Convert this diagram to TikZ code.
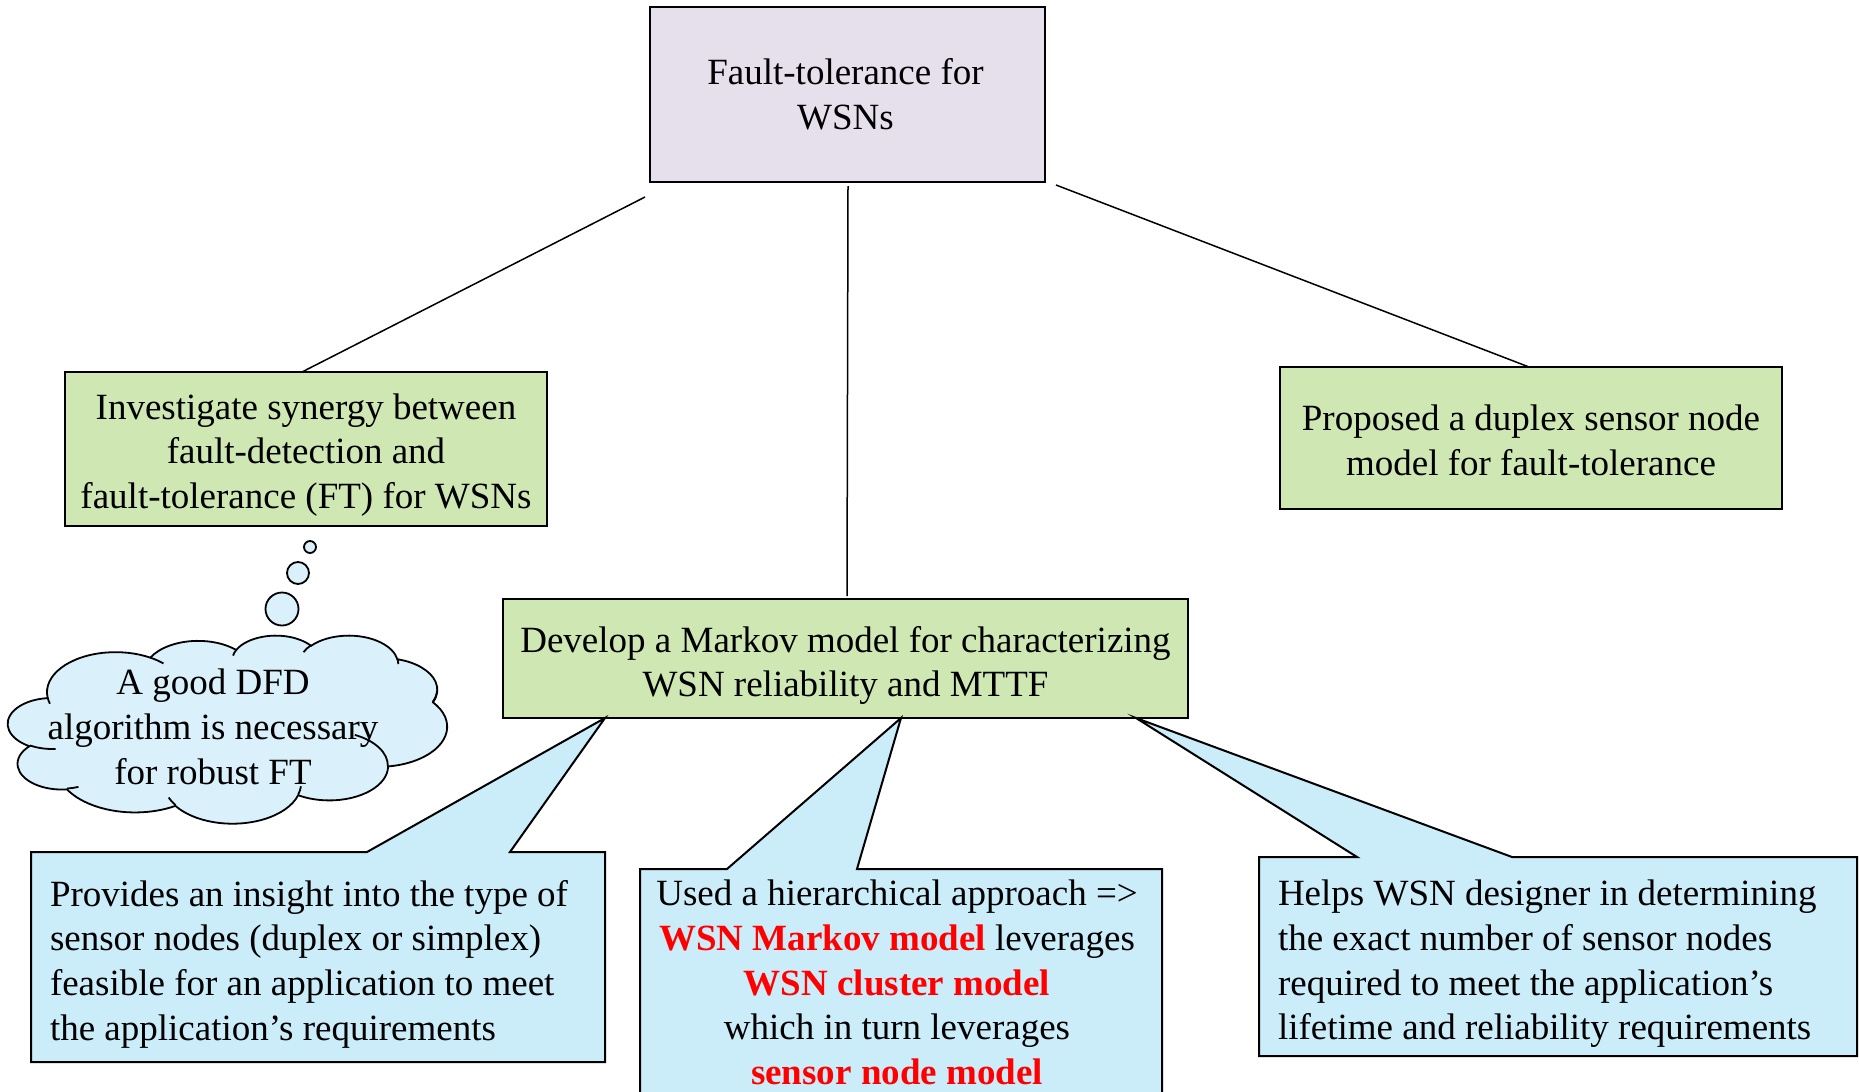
\documentclass[tikz,border=0pt]{standalone}
\usepackage{fontspec}
\setmainfont{Liberation Serif}
\usetikzlibrary{calc}

\definecolor{lavender}{RGB}{230,224,236}
\definecolor{leaf}{RGB}{207,231,179}
\definecolor{sky}{RGB}{203,236,249}
\definecolor{mist}{RGB}{218,240,250}

\newcommand\redbold[1]{\textcolor{red}{\bfseries #1}}

\tikzset{
  box/.style={draw=black, line width=1pt, rectangle, inner sep=0pt, outer sep=0pt},
  topbox/.style={box, fill=lavender},
  greenbox/.style={box, fill=leaf},
  link/.style={draw=black, line width=0.75pt},
  callframe/.style={rectangle, inner sep=0pt, outer sep=0pt},
  callout/.style={draw=black, line width=1pt, fill=sky},
  bubble/.style={circle, draw=black, line width=0.9pt, fill=mist, inner sep=0pt, outer sep=0pt},
  cloudline/.style={draw=black, line width=0.9pt},
  note/.style={inner sep=0pt, outer sep=0pt}
}

\begin{document}
\begin{tikzpicture}[x=0.5pt, y=-0.5pt, font=\fontsize{18.5}{22.35}\selectfont]
\clip (0,0) rectangle (1859,1092);
\fill[white] (0,0) rectangle (1859,1092);

% main boxes
\node[topbox, minimum width=197.5pt, minimum height=87.5pt] (top) at (847.5,94.5) {};
\node[greenbox, minimum width=241pt, minimum height=77pt] (lbox) at (306,449) {};
\node[greenbox, minimum width=251pt, minimum height=71pt] (rbox) at (1531,438) {};
\node[greenbox, minimum width=342.5pt, minimum height=59.5pt] (mid) at (845.5,658.5) {};

\node[note, align=center] (toptext) at ($(top)+(-2,0)$) {Fault-tolerance for\\WSNs};
\node[note, align=center] (ltext) at ($(lbox)+(0,6)$)
  {Investigate synergy between\\fault-detection and\\fault-tolerance (FT) for WSNs};
\node[note, align=center] (rtext) at ($(rbox)+(0,2.5)$)
  {Proposed a duplex sensor node\\model for fault-tolerance};
\node[note, align=center] (midtext) at ($(mid)+(0,7)$)
  {Develop a Markov model for characterizing\\WSN reliability and MTTF};

% connectors from the root
\draw[link] ($(top.south west)+(-5,15)$) -- ($(lbox.north)+(-4,0)$);
\draw[link] ($(top.south)+(0.5,4)$) -- ($(mid.north)+(1.5,-3)$);
\draw[link] ($(top.south east)+(11,3)$) -- ($(rbox.north)+(-2,0)$);

% thought bubbles
\node[bubble, minimum size=6pt] (b1) at (310,547) {};
\node[bubble, minimum size=11pt] (b2) at (298,573) {};
\node[bubble, minimum size=16.5pt] (b3) at (282,609) {};

% cloud outline
\begin{scope}[shift={(8,635)}, x=0.5081pt, y=-0.21759pt]
\filldraw[cloudline, fill=mist] (39.00,143.70)
  arc[start angle=-187.75, end angle=-59.63, x radius=67.53, y radius=91.90]
  arc[start angle=-151.99, end angle=-45.49, x radius=53.33, y radius=72.67]
  arc[start angle=-153.47, end angle=-37.36, x radius=43.65, y radius=59.45]
  arc[start angle=-139.78, end angle=-10.20, x radius=48.57, y radius=65.95]
  arc[start angle=-74.80, end angle=23.25, x radius=53.33, y radius=72.73]
  arc[start angle=-37.53, end angle=81.86, x radius=67.75, y radius=92.20]
  arc[start angle=0.46, end angle=121.98, x radius=57.85, y radius=78.67]
  arc[start angle=16.84, end angle=146.23, x radius=67.52, y radius=92.15]
  arc[start angle=58.98, end angle=150.19, x radius=77.20, y radius=105.43]
  arc[start angle=-276.69, end angle=-136.88, x radius=43.60, y radius=59.18]
  arc[start angle=-239.64, end angle=-95.89, x radius=43.45, y radius=59.45]
  -- cycle;
\draw[cloudline] (46.93,261.77) arc[start angle=85.54, end angle=120.36, x radius=43.45, y radius=59.45];
\draw[cloudline] (69.28,348.99) arc[start angle=68.23, end angle=83.31, x radius=43.60, y radius=59.18];
\draw[cloudline] (164.78,390.90) arc[start angle=146.23, end angle=158.47, x radius=67.52, y radius=92.15];
\draw[cloudline] (288.27,347.51) arc[start angle=4.74, end angle=16.84, x radius=67.52, y radius=92.15];
\draw[cloudline] (341.29,229.54) arc[start angle=-64.02, end angle=0.46, x radius=57.85, y radius=78.67];
\draw[cloudline] (417.98,153.54) arc[start angle=23.25, end angle=1.89, x radius=53.33, y radius=72.73];
\draw[cloudline] (383.24,54.26) arc[start angle=-10.20, end angle=0.82, x radius=48.57, y radius=65.95];
\draw[cloudline] (290.78,39.52) arc[start angle=-156.30, end angle=-139.78, x radius=48.57, y radius=65.95];
\draw[cloudline] (221.41,47.20) arc[start angle=-167.72, end angle=-153.47, x radius=43.65, y radius=59.45];
\draw[cloudline] (140.00,51.92) arc[start angle=-59.63, end angle=-45.73, x radius=67.53, y radius=91.90];
\draw[cloudline] (41.27,157.89) arc[start angle=163.19, end angle=172.25, x radius=67.53, y radius=91.90];
\end{scope}
\node[note, align=center] (ctext) at (213,727) {A good DFD\\algorithm is necessary\\for robust FT};

% callout frames
\node[callframe, minimum width=287pt, minimum height=105pt] (c1) at (318,957) {};
\node[callframe, minimum width=261pt, minimum height=120.5pt] (c2) at (901,989.5) {};
\node[callframe, minimum width=299pt, minimum height=99.5pt] (c3) at (1558,956.5) {};
\coordinate (c1tip) at ($(mid.south west)+(102,0)$);
\coordinate (c2tip) at ($(mid.south west)+(398,0)$);
\coordinate (c3tip) at ($(mid.south west)+(633,0)$);

\draw[callout] (c1.north west) -- ($(c1.north west)+(336,0)$) -- (c1tip)
  -- ($(c1.north west)+(479,0)$) -- (c1.north east) -- (c1.south east) -- (c1.south west) -- cycle;
\draw[callout] (c2.north west) -- ($(c2.north west)+(87,0)$) -- (c2tip)
  -- ($(c2.north west)+(217,0)$) -- (c2.north east) -- (c2.south east) -- (c2.south west) -- cycle;
\draw[callout] (c3.north west) -- ($(c3.north west)+(98,0)$) -- (c3tip)
  -- ($(c3.north west)+(253,0)$) -- (c3.north east) -- (c3.south east) -- (c3.south west) -- cycle;

% callout texts
\node[note, anchor=west, align=left] (t1) at ($(c1.west)+(19,7)$)
  {Provides an insight into the type of\\sensor nodes (duplex or simplex)\\feasible for an application to meet\\the application’s requirements};
\node[note, align=center] (t2) at (897,982.5)
  {Used a hierarchical approach =>\\\redbold{WSN Markov model} leverages\\\redbold{WSN cluster model}\\which in turn leverages\\\redbold{sensor node model}};
\node[note, anchor=west, align=left] (t3) at ($(c3.west)+(19,7.5)$)
  {Helps WSN designer in determining\\the exact number of sensor nodes\\required to meet the application’s\\lifetime and reliability requirements};
\end{tikzpicture}
\end{document}
